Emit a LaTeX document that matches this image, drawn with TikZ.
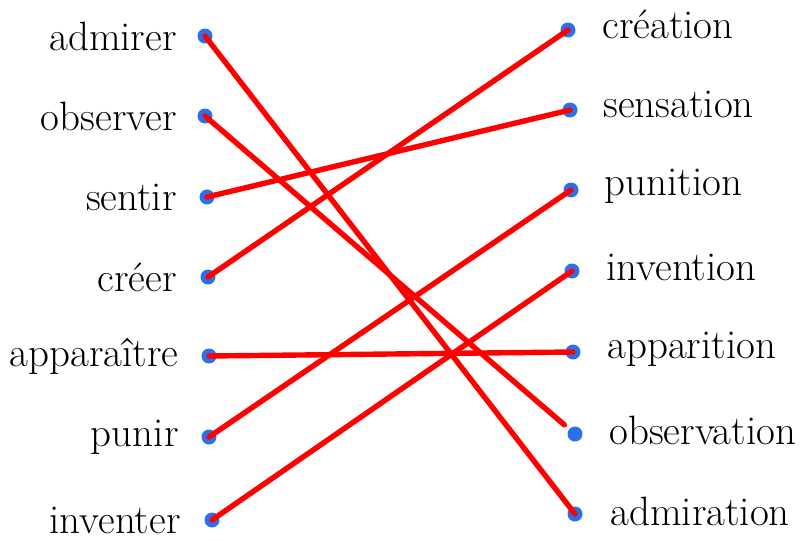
\documentclass[tikz,border=0pt]{standalone}
\usepackage{amssymb}
\usepackage{amsmath}
\usepackage{tikz}
\usetikzlibrary{arrows.meta}
\definecolor{dotblue}{RGB}{45,110,235}
\begin{document}
\begin{tikzpicture}[x=0.5pt,y=-0.5pt]
			\tikzstyle{d}=[circle,fill=dotblue,inner sep=0pt,minimum size=7.5pt]
			\tikzstyle{w}=[inner sep=0pt,font=\fontsize{20.5}{24}\selectfont]
			\tikzstyle{m}=[line width=2.7pt,red,line cap=round]
				\useasboundingbox (0,0) rectangle (805,541);
				\node [d] (l1) at (205,36) {};
				\node [d] (l2) at (205,116) {};
				\node [d] (l3) at (207,197) {};
				\node [d] (l4) at (208,277) {};
				\node [d] (l5) at (209,356) {};
				\node [d] (l6) at (209,437) {};
				\node [d] (l7) at (212,520) {};
				\node [d] (r1) at (568,30) {};
				\node [d] (r2) at (570,110) {};
				\node [d] (r3) at (571,190) {};
				\node [d] (r4) at (572,271) {};
				\node [d] (r5) at (573,352) {};
				\node [d] (r6) at (575,434) {};
				\node [d] (r7) at (575,514) {};
				\node [w,anchor=east] (a1) at (177,36) {admirer};
				\node [w,anchor=east] (a2) at (177,116) {observer};
				\node [w,anchor=east] (a3) at (177,197) {sentir};
				\node [w,anchor=east] (a4) at (177,277) {créer};
				\node [w,anchor=east] (a5) at (179,356) {apparaître};
				\node [w,anchor=east] (a6) at (179,437) {punir};
				\node [w,anchor=east] (a7) at (181,520) {inventer};
				\node [w,anchor=west] (b1) at (602,24) {création};
				\node [w,anchor=west] (b2) at (603,104) {sensation};
				\node [w,anchor=west] (b3) at (604,186) {punition};
				\node [w,anchor=west] (b4) at (606,267) {invention};
				\node [w,anchor=west] (b5) at (607,349) {apparition};
				\node [w,anchor=west] (b6) at (609,430) {observation};
				\node [w,anchor=west] (b7) at (610,511) {admiration};
				\draw [m] (l1.center) to (r7.center);
				\draw [m,shorten >=7pt] (l2.center) to (r6.center);
				\draw [m] (l3.center) to (r2.center);
				\draw [m] (l4.center) to (r1.center);
				\draw [m] (l5.center) to (r5.center);
				\draw [m] (l6.center) to (r3.center);
				\draw [m] (l7.center) to (r4.center);
	\end{tikzpicture}
\end{document}
